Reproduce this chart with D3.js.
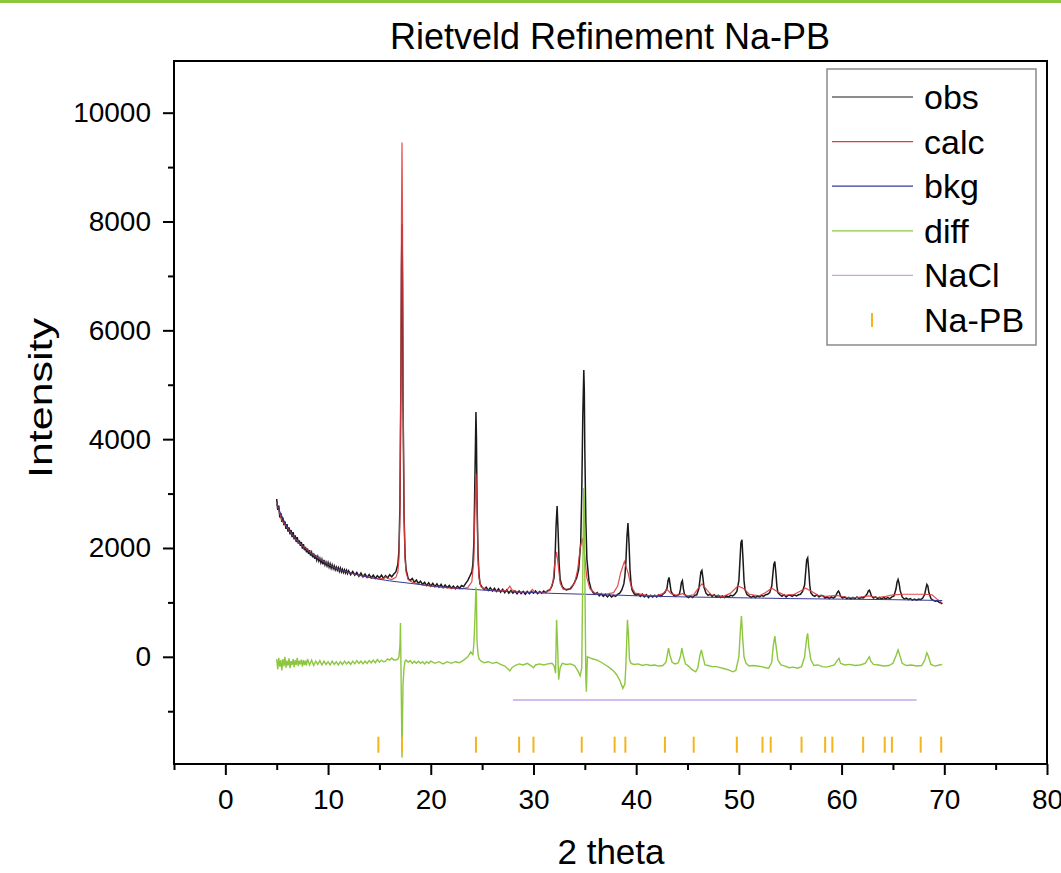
<!DOCTYPE html>
<html>
<head>
<meta charset="utf-8">
<script src="https://cdn.jsdelivr.net/npm/d3@7"></script>
<style>
  body { margin: 0; background: #fff; }
  text { font-family: "Liberation Sans", Arial, sans-serif; }
</style>
</head>
<body>
<svg id="chart" width="1061" height="873"></svg>
<script>
// ---- data (2 theta, intensity) ----
var obs = [
  [5.0,2900],[5.1,2700],[5.2,2780],[5.3,2560],[5.4,2640],[5.5,2480],[5.6,2560],[5.7,2420],[5.8,2490],[5.9,2350],
  [6.0,2440],[6.1,2300],[6.2,2380],[6.3,2250],[6.4,2330],[6.5,2200],[6.6,2290],[6.7,2160],[6.8,2230],[6.9,2110],
  [7.0,2200],[7.1,2080],[7.2,2140],[7.3,2040],[7.4,2110],[7.5,1990],[7.6,2070],[7.7,1960],[7.8,2020],[7.9,1920],
  [8.0,1990],[8.1,1890],[8.2,1960],[8.3,1860],[8.4,1920],[8.5,1830],[8.6,1900],[8.7,1800],[8.8,1870],[8.9,1780],
  [9.0,1840],[9.1,1760],[9.2,1810],[9.3,1730],[9.4,1790],[9.5,1700],[9.6,1780],[9.7,1690],[9.8,1740],[9.9,1670],
  [10.0,1730],[10.1,1650],[10.2,1710],[10.3,1630],[10.4,1690],[10.5,1620],[10.6,1670],[10.7,1600],[10.8,1650],[10.9,1590],
  [11.0,1640],[11.1,1570],[11.2,1630],[11.3,1560],[11.4,1610],[11.5,1550],[11.6,1600],[11.7,1540],[11.8,1590],[11.9,1530],
  [12.0,1580],[12.2,1510],[12.4,1570],[12.6,1500],[12.8,1550],[13.0,1480],[13.2,1540],[13.4,1470],[13.6,1520],[13.8,1460],
  [14.0,1510],[14.2,1450],[14.4,1500],[14.6,1440],[14.8,1490],[15.0,1450],[15.2,1500],[15.4,1440],[15.6,1490],[15.8,1450],
  [16.0,1510],[16.2,1470],[16.4,1520],[16.6,1560],[16.8,1700],[16.9,1950],[17.0,2800],[17.1,5300],[17.15,7200],[17.2,7950],
  [17.25,6900],[17.3,4700],[17.4,2600],[17.5,1850],[17.6,1600],[17.8,1440],[18.0,1400],[18.2,1440],[18.4,1370],[18.6,1410],
  [18.8,1350],[19.0,1390],[19.2,1330],[19.4,1370],[19.6,1310],[19.8,1360],[20.0,1300],[20.2,1350],[20.4,1290],[20.6,1340],
  [20.8,1280],[21.0,1330],[21.2,1270],[21.4,1320],[21.6,1270],[21.8,1310],[22.0,1260],[22.2,1300],[22.4,1250],[22.6,1300],
  [22.8,1260],[23.0,1310],[23.2,1290],[23.4,1350],[23.6,1400],[23.8,1480],[24.0,1560],[24.1,1700],[24.2,2100],[24.3,3300],
  [24.4,4500],[24.45,4000],[24.5,2900],[24.6,1900],[24.7,1500],[24.8,1340],[25.0,1280],[25.2,1240],[25.4,1280],[25.6,1220],
  [25.8,1270],[26.0,1210],[26.2,1260],[26.4,1200],[26.6,1250],[26.8,1190],[27.0,1240],[27.2,1180],[27.4,1230],[27.6,1170],
  [27.8,1220],[28.0,1170],[28.2,1210],[28.4,1160],[28.6,1210],[28.8,1160],[29.0,1200],[29.2,1150],[29.4,1200],[29.6,1160],
  [29.8,1200],[30.0,1170],[30.2,1210],[30.4,1160],[30.6,1200],[30.8,1170],[31.0,1210],[31.2,1180],[31.4,1220],[31.6,1230],
  [31.8,1300],[32.0,1450],[32.1,1800],[32.2,2400],[32.3,2770],[32.4,2300],[32.5,1700],[32.6,1420],[32.8,1290],[33.0,1250],
  [33.2,1230],[33.4,1240],[33.6,1250],[33.8,1300],[34.0,1370],[34.2,1450],[34.4,1600],[34.6,2100],[34.7,3000],[34.8,4400],
  [34.9,5270],[34.95,4900],[35.0,3800],[35.1,2500],[35.2,1800],[35.4,1400],[35.6,1250],[35.8,1180],[36.0,1150],[36.2,1180],
  [36.4,1120],[36.6,1160],[36.8,1110],[37.0,1150],[37.2,1100],[37.4,1140],[37.6,1100],[37.8,1130],[38.0,1110],[38.2,1150],
  [38.4,1170],[38.6,1230],[38.8,1340],[38.9,1480],[39.0,1750],[39.1,2200],[39.2,2460],[39.3,2100],[39.4,1600],[39.5,1350],
  [39.6,1230],[39.8,1160],[40.0,1130],[40.2,1160],[40.4,1110],[40.6,1150],[40.8,1100],[41.0,1140],[41.2,1090],[41.4,1130],
  [41.6,1100],[41.8,1130],[42.0,1100],[42.2,1140],[42.4,1110],[42.6,1150],[42.8,1180],[43.0,1260],[43.1,1400],[43.2,1460],
  [43.3,1330],[43.4,1200],[43.6,1140],[43.8,1110],[44.0,1130],[44.2,1150],[44.3,1230],[44.4,1360],[44.5,1400],[44.6,1250],
  [44.7,1150],[44.9,1110],[45.1,1090],[45.3,1120],[45.5,1090],[45.7,1130],[45.9,1140],[46.1,1250],[46.2,1400],[46.3,1560],
  [46.4,1590],[46.5,1450],[46.6,1280],[46.8,1170],[47.0,1130],[47.2,1150],[47.4,1110],[47.6,1140],[47.8,1100],[48.0,1130],
  [48.2,1090],[48.4,1120],[48.6,1090],[48.8,1120],[49.0,1100],[49.2,1130],[49.4,1120],[49.6,1150],[49.8,1200],[50.0,1400],
  [50.1,1750],[50.2,2100],[50.3,2150],[50.4,1800],[50.5,1400],[50.6,1230],[50.8,1140],[51.0,1120],[51.2,1090],[51.4,1120],
  [51.6,1090],[51.8,1120],[52.0,1100],[52.2,1130],[52.4,1110],[52.6,1140],[52.8,1150],[53.0,1180],[53.2,1300],[53.3,1500],
  [53.4,1700],[53.5,1750],[53.6,1550],[53.7,1300],[53.8,1180],[54.0,1140],[54.2,1110],[54.4,1140],[54.6,1100],[54.8,1130],
  [55.0,1130],[55.2,1110],[55.4,1140],[55.6,1120],[55.8,1140],[56.0,1150],[56.2,1200],[56.4,1320],[56.5,1550],[56.6,1780],
  [56.7,1820],[56.8,1600],[56.9,1320],[57.0,1180],[57.2,1130],[57.4,1110],[57.6,1140],[57.8,1100],[58.0,1130],[58.2,1120],
  [58.4,1080],[58.6,1100],[58.8,1070],[59.0,1100],[59.2,1080],[59.4,1110],[59.5,1150],[59.6,1190],[59.7,1210],[59.8,1170],
  [59.9,1110],[60.1,1080],[60.3,1100],[60.5,1070],[60.7,1090],[60.9,1060],[61.1,1090],[61.3,1070],[61.5,1100],[61.7,1070],
  [61.9,1090],[62.1,1080],[62.3,1110],[62.5,1160],[62.6,1210],[62.7,1225],[62.8,1180],[62.9,1120],[63.1,1080],[63.3,1100],
  [63.5,1070],[63.7,1090],[63.9,1060],[64.1,1090],[64.3,1070],[64.5,1090],[64.7,1070],[64.9,1100],[65.1,1120],[65.3,1250],
  [65.4,1370],[65.5,1420],[65.6,1350],[65.7,1220],[65.9,1100],[66.1,1060],[66.3,1080],[66.5,1050],[66.7,1070],[66.9,1040],
  [67.1,1060],[67.3,1040],[67.5,1060],[67.7,1050],[67.9,1080],[68.1,1150],[68.2,1250],[68.3,1330],[68.4,1300],[68.5,1180],
  [68.7,1070],[68.9,1040],[69.1,1020],[69.3,1030],[69.5,1000],[69.7,990],[69.8,970]
];

var calc = [
  [5.0,2820],[5.5,2510],[6.0,2380],[6.5,2250],[7.0,2130],[7.5,2040],[8.0,1960],[8.5,1880],[9.0,1820],[9.5,1760],
  [10.0,1700],[11.0,1610],[12.0,1550],[13.0,1500],[14.0,1460],[15.0,1430],[15.4,1440],[15.6,1470],[15.8,1440],[16.2,1420],
  [16.6,1460],[16.8,1560],[16.9,1800],[17.0,2600],[17.1,5500],[17.15,8200],[17.2,9450],[17.25,8000],[17.3,5200],[17.4,2600],
  [17.5,1800],[17.6,1550],[17.8,1420],[18.2,1370],[19.0,1330],[20.0,1300],[21.0,1280],[22.0,1260],[23.0,1250],[23.6,1270],
  [24.0,1380],[24.2,1800],[24.3,2700],[24.4,3370],[24.5,2800],[24.6,1800],[24.7,1450],[24.9,1280],[25.5,1230],[26.5,1210],
  [27.4,1220],[27.7,1300],[27.9,1230],[28.4,1190],[29.6,1180],[29.9,1240],[30.1,1190],[31.0,1180],[31.6,1220],[31.9,1380],
  [32.1,1750],[32.25,1930],[32.4,1700],[32.6,1350],[32.9,1240],[33.5,1250],[34.0,1350],[34.3,1600],[34.55,2000],[34.75,2180],
  [34.95,1900],[35.2,1450],[35.5,1250],[36.0,1170],[37.0,1150],[37.8,1180],[38.2,1300],[38.5,1550],[38.85,1750],[39.2,1550],
  [39.5,1300],[39.9,1170],[41.0,1130],[42.0,1125],[42.6,1160],[43.0,1240],[43.4,1160],[44.0,1130],[44.5,1160],[45.0,1120],
  [45.6,1140],[46.0,1250],[46.4,1340],[46.8,1250],[47.3,1140],[48.5,1110],[49.2,1170],[49.9,1300],[50.5,1250],[51.0,1150],
  [52.0,1120],[52.6,1180],[53.2,1260],[53.8,1190],[54.5,1130],[55.4,1150],[56.0,1210],[56.5,1260],[57.1,1200],[57.7,1130],
  [58.5,1110],[59.5,1130],[60.5,1095],[61.5,1090],[62.6,1120],[63.5,1090],[64.3,1110],[65.0,1140],[66.0,1150],[67.0,1150],
  [68.0,1150],[68.8,1140],[69.3,1060],[69.8,990]
];

var bkg = [
  [5,2800],[6,2380],[7,2130],[8,1950],[9,1810],[10,1700],[11,1610],[12,1550],[13,1500],[14,1460],
  [15,1425],[16,1395],[18,1350],[20,1305],[22,1270],[24,1240],[26,1215],[28,1195],[30,1180],[32,1165],
  [35,1150],[38,1135],[41,1115],[45,1100],[50,1085],[55,1070],[60,1060],[65,1050],[69.8,1035]
];

var diff = [
  [5.0,-40],[5.1,-230],[5.2,-20],[5.3,-180],[5.4,-60],[5.5,-250],[5.6,-40],[5.7,-170],[5.8,0],[5.9,-200],
  [6.0,-70],[6.1,-160],[6.2,-30],[6.3,-210],[6.4,-80],[6.5,-150],[6.6,-40],[6.7,-190],[6.8,-60],[6.9,-150],
  [7.0,-20],[7.1,-170],[7.2,-70],[7.3,-140],[7.4,-50],[7.5,-180],[7.6,-60],[7.7,-150],[7.8,-70],[7.9,-160],
  [8.0,-40],[8.2,-150],[8.4,-60],[8.6,-160],[8.8,-80],[9.0,-140],[9.2,-70],[9.4,-150],[9.6,-80],[9.8,-140],
  [10.0,-90],[10.2,-150],[10.4,-80],[10.6,-140],[10.8,-90],[11.0,-150],[11.2,-90],[11.4,-140],[11.6,-80],[11.8,-130],
  [12.0,-90],[12.2,-140],[12.4,-80],[12.6,-130],[12.8,-70],[13.0,-120],[13.2,-80],[13.4,-130],[13.6,-80],[13.8,-120],
  [14.0,-70],[14.2,-110],[14.4,-60],[14.6,-110],[14.8,-50],[15.0,-100],[15.2,-60],[15.4,-90],[15.6,-80],[15.8,-40],
  [16.0,-60],[16.2,-20],[16.4,-60],[16.6,-60],[16.8,-40],[16.9,0],[17.0,200],[17.05,620],[17.1,-200],[17.15,-1000],
  [17.2,-1850],[17.25,-1100],[17.3,-500],[17.4,-200],[17.5,-80],[17.6,-60],[17.8,-100],[18.0,-70],[18.2,-120],[18.4,-80],
  [18.6,-120],[18.8,-80],[19.0,-120],[19.2,-90],[19.4,-130],[19.6,-90],[19.8,-120],[20.0,-80],[20.4,-120],[20.8,-90],
  [21.2,-130],[21.6,-90],[22.0,-120],[22.4,-90],[22.8,-110],[23.2,-60],[23.6,0],[23.9,90],[24.1,40],[24.2,250],
  [24.3,700],[24.4,1280],[24.45,1100],[24.5,300],[24.6,50],[24.7,-40],[24.9,-80],[25.2,-110],[25.6,-90],[26.0,-120],
  [26.4,-100],[26.8,-140],[27.2,-170],[27.5,-220],[27.7,-260],[27.9,-200],[28.2,-160],[28.6,-130],[29.0,-150],[29.4,-120],
  [29.8,-170],[30.0,-200],[30.2,-150],[30.6,-130],[31.0,-150],[31.4,-130],[31.8,-120],[32.0,-160],[32.1,-250],[32.15,-300],
  [32.25,680],[32.35,200],[32.45,-420],[32.6,-200],[32.8,-120],[33.2,-140],[33.6,-130],[34.0,-160],[34.3,-250],[34.55,-350],
  [34.7,-200],[34.8,1500],[34.9,3100],[34.95,2900],[35.0,1500],[35.1,-400],[35.15,-640],[35.25,0],[35.5,-20],[35.8,-40],
  [36.2,-60],[36.6,-100],[37.0,-150],[37.4,-200],[37.8,-260],[38.1,-330],[38.4,-430],[38.7,-580],[38.9,-500],[39.0,-150],
  [39.15,680],[39.25,400],[39.35,-50],[39.5,-120],[39.8,-140],[40.2,-130],[40.6,-160],[41.0,-140],[41.4,-160],[41.8,-150],
  [42.2,-170],[42.6,-160],[42.9,-100],[43.15,160],[43.3,20],[43.5,-100],[43.8,-130],[44.1,-110],[44.3,0],[44.45,160],
  [44.6,10],[44.8,-130],[45.1,-170],[45.4,-230],[45.8,-275],[46.0,-200],[46.2,20],[46.35,125],[46.5,0],[46.7,-150],
  [47.0,-160],[47.4,-180],[47.8,-180],[48.2,-200],[48.6,-220],[49.0,-240],[49.4,-275],[49.7,-250],[50.0,0],[50.15,500],
  [50.25,750],[50.35,400],[50.5,0],[50.7,-120],[51.0,-170],[51.4,-160],[51.8,-170],[52.2,-180],[52.6,-200],[52.9,-210],
  [53.2,-100],[53.35,200],[53.5,380],[53.65,150],[53.8,-60],[54.1,-150],[54.5,-170],[54.9,-200],[55.3,-190],[55.7,-210],
  [56.1,-180],[56.4,0],[56.6,350],[56.7,430],[56.8,200],[57.0,-50],[57.3,-160],[57.7,-150],[58.1,-180],[58.5,-190],
  [58.9,-170],[59.3,-150],[59.6,-60],[59.75,-30],[59.9,-120],[60.3,-150],[60.8,-140],[61.3,-160],[61.8,-150],[62.3,-120],
  [62.6,-30],[62.7,0],[62.85,-80],[63.1,-140],[63.6,-150],[64.1,-170],[64.6,-160],[65.0,-120],[65.3,20],[65.5,125],
  [65.65,40],[65.9,-120],[66.3,-160],[66.8,-150],[67.3,-170],[67.8,-160],[68.1,-60],[68.3,75],[68.45,10],[68.7,-140],
  [69.1,-170],[69.5,-150],[69.8,-140]
];

var nacl = [[28.0,-795],[67.3,-795]];

var napbPositions = [14.9,17.2,24.4,28.6,30.0,34.7,37.9,38.95,42.8,45.6,49.8,52.3,53.1,56.1,58.4,59.1,62.1,64.2,64.9,67.7,69.7];
var napbLevel = -1615;

var legendNames = ["obs","calc","bkg","diff","NaCl","Na-PB"];
var seriesColors = ["#1a1a1a","#e0393b","#363a96","#8dc63f","#c7a6e8","#f4b41a"];

var xMajor = [0,10,20,30,40,50,60,70,80];
var xMinor = [-5,5,15,25,35,45,55,65,75];
var yMajor = [0,2000,4000,6000,8000,10000];
var yMinor = [-1000,1000,3000,5000,7000,9000];

// ---- layout ----
var svg = d3.select("#chart");
var plot = {left:174, right:1047, top:61, bottom:764};

var xScale = d3.scaleLinear().domain([-5,80]).range([plot.left,plot.right]);
var yScale = d3.scaleLinear().domain([-1970,10950]).range([plot.bottom,plot.top]);

// green band at very top
svg.append("rect").attr("x",0).attr("y",0).attr("width",1061).attr("height",3).attr("fill","#8dc63f");

// title
svg.append("text")
  .attr("x",610).attr("y",49)
  .attr("text-anchor","middle")
  .attr("font-size","36px")
  .text("Rietveld Refinement Na-PB");

var line = d3.line()
  .x(function(d){ return xScale(d[0]); })
  .y(function(d){ return yScale(d[1]); });

var g = svg.append("g");

g.append("path").datum(obs).attr("d",line)
  .attr("fill","none").attr("stroke",seriesColors[0]).attr("stroke-width",1.5);
g.append("path").datum(calc).attr("d",line)
  .attr("fill","none").attr("stroke",seriesColors[1]).attr("stroke-width",1.2).attr("stroke-opacity",0.9);
g.append("path").datum(bkg).attr("d",line)
  .attr("fill","none").attr("stroke",seriesColors[2]).attr("stroke-width",1);
g.append("path").datum(diff).attr("d",line)
  .attr("fill","none").attr("stroke",seriesColors[3]).attr("stroke-width",1.4);
g.append("path").datum(nacl).attr("d",line)
  .attr("fill","none").attr("stroke",seriesColors[4]).attr("stroke-width",1.6);

g.selectAll(".napb")
  .data(napbPositions)
  .enter()
  .append("line")
  .attr("class","napb")
  .attr("x1",function(d){ return xScale(d); })
  .attr("x2",function(d){ return xScale(d); })
  .attr("y1",yScale(napbLevel)-8)
  .attr("y2",yScale(napbLevel)+8)
  .attr("stroke",seriesColors[5])
  .attr("stroke-width",2);

// frame
svg.append("rect")
  .attr("x",plot.left).attr("y",plot.top)
  .attr("width",plot.right-plot.left).attr("height",plot.bottom-plot.top)
  .attr("fill","none").attr("stroke","#000").attr("stroke-width",2);

// axes
var fmt = d3.format("d");
svg.append("g").attr("transform","translate(0,"+plot.bottom+")")
  .call(d3.axisBottom(xScale).tickValues(xMajor).tickFormat(fmt).tickSize(11).tickSizeOuter(0).tickPadding(14));
svg.append("g").attr("transform","translate(0,"+plot.bottom+")")
  .call(d3.axisBottom(xScale).tickValues(xMinor).tickSize(6).tickSizeOuter(0).tickFormat(""));
svg.append("g").attr("transform","translate("+plot.left+",0)")
  .call(d3.axisLeft(yScale).tickValues(yMajor).tickFormat(fmt).tickSize(11).tickSizeOuter(0).tickPadding(12));
svg.append("g").attr("transform","translate("+plot.left+",0)")
  .call(d3.axisLeft(yScale).tickValues(yMinor).tickSize(6).tickSizeOuter(0).tickFormat(""));

svg.selectAll(".domain").remove();
svg.selectAll(".tick line").attr("stroke","#000").attr("stroke-width",2);
svg.selectAll(".tick text")
  .attr("font-family","Liberation Sans, Arial, sans-serif")
  .attr("font-size","28px")
  .attr("fill","#000");

// axis titles
svg.append("text")
  .attr("x",611).attr("y",864)
  .attr("text-anchor","middle")
  .attr("font-size","35px")
  .text("2 theta");

svg.append("text")
  .attr("transform","translate(52,398) rotate(-90)")
  .attr("text-anchor","middle")
  .attr("font-size","34px")
  .attr("textLength",160)
  .attr("lengthAdjust","spacingAndGlyphs")
  .text("Intensity");

// legend
var legend = svg.append("g").attr("transform","translate(827,69)");
legend.append("rect")
  .attr("width",209).attr("height",276)
  .attr("fill","#fff").attr("stroke","#8a8a8a").attr("stroke-width",1.5);

var rows = legend.selectAll(".row")
  .data(legendNames)
  .enter()
  .append("g")
  .attr("class","row")
  .attr("transform",function(d,i){ return "translate(0,"+(28+i*44.6)+")"; });

rows.filter(function(d,i){ return i < 5; })
  .append("line")
  .attr("x1",5).attr("x2",86).attr("y1",0).attr("y2",0)
  .attr("stroke",function(d,i){ return seriesColors[i]; })
  .attr("stroke-width",1.2);

rows.filter(function(d,i){ return i == 5; })
  .append("line")
  .attr("x1",45).attr("x2",45).attr("y1",-7).attr("y2",7)
  .attr("stroke",seriesColors[5]).attr("stroke-width",2);

rows.append("text")
  .attr("x",97).attr("y",12)
  .attr("font-size","34px")
  .attr("fill","#000")
  .text(function(d){ return d; });
</script>
</body>
</html>
